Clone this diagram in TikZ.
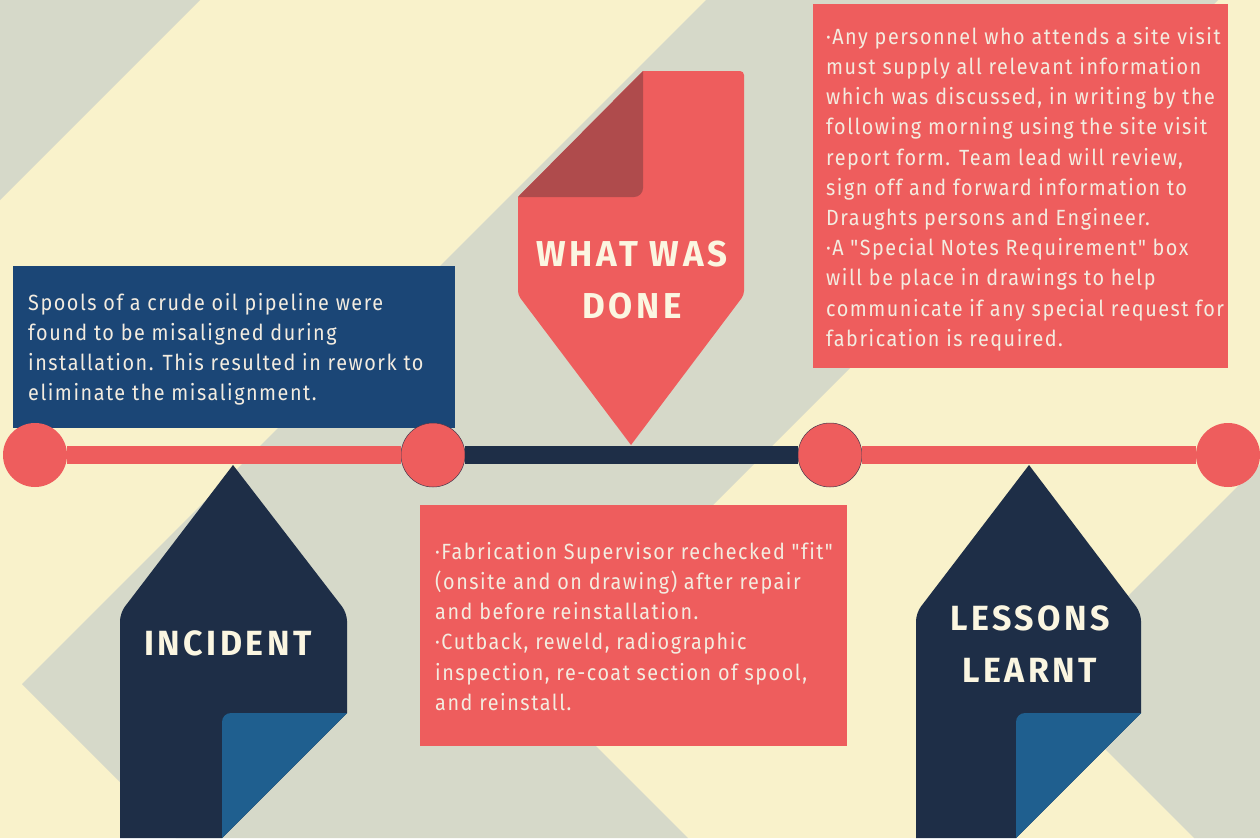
\documentclass[tikz,border=0pt]{standalone}
\usepackage{fontspec}
\setmainfont{Fira Sans}
\newfontfamily\bodyfont{Fira Sans}[FakeStretch=0.9, LetterSpace=7, Ligatures=NoCommon]
\newfontfamily\headfont{Fira Sans}[FakeStretch=0.97, LetterSpace=10]
\definecolor{bgbeige}{HTML}{F9F2CB}
\definecolor{bggrey}{HTML}{D6D9C9}
\definecolor{coral}{HTML}{EE5D5D}
\definecolor{coraldark}{HTML}{AF4B4C}
\definecolor{navy}{HTML}{1E2E47}
\definecolor{boxblue}{HTML}{1B4676}
\definecolor{foldblue}{HTML}{1F5F8F}
\definecolor{cream}{HTML}{FBF6E1}
\definecolor{bodytext}{HTML}{F3ECE0}
\tikzset{
  panel/.style={anchor=north west, inner sep=0pt, outer sep=0pt},
  bodytxt/.style={anchor=north west, inner sep=0pt, align=left, text=bodytext,
    font=\bodyfont\fontsize{22}{30.2}\selectfont},
  headtxt/.style={inner sep=0pt, align=center, text=cream,
    font=\headfont\bfseries\fontsize{35}{52}\selectfont},
  dot/.style={circle, fill=coral, minimum size=64pt, inner sep=0pt},
  ringdot/.style={dot, draw=navy!80!coral, line width=0.5pt},
  redline/.style={line width=18pt, coral},
  navyline/.style={line width=18pt, navy},
}
\begin{document}
\begin{tikzpicture}[x=1pt,y=-1pt]
\useasboundingbox (0,0) rectangle (1260,838);
% background chevron stripes
\begin{scope}
\clip (0,0) rectangle (1260,838);
\fill[bgbeige] (0,0) rectangle (1260,838);
\foreach \a in {-996,22,1040}{
  \pgfmathsetmacro\b{\a+512}
  \fill[bggrey] (\a+684,0) -- (\b+684,0) -- (\b,684) -- (\b+154,838) -- (\a+154,838) -- (\a,684) -- cycle;
}
\end{scope}
% text panels
\node[panel, fill=boxblue, minimum width=442pt, minimum height=162pt] (incbox) at (13,266) {};
\node[panel, fill=coral, minimum width=427pt, minimum height=241pt] (donebox) at (420,505) {};
\node[panel, fill=coral, minimum width=415pt, minimum height=364pt] (lessbox) at (813,4) {};
% WHAT WAS DONE tag
\fill[coral] (643,71) [rounded corners=4pt]-- (744,71) -- (744,295) [sharp corners]-- (631,445) [rounded corners=4pt]-- (518,295) [sharp corners]-- (518,197) -- cycle;
\fill[coraldark] (518,197) [rounded corners=9pt]-- (643,197) [sharp corners]-- (643,71) -- cycle;
\node[headtxt, font=\headfont\bfseries\fontsize{36}{52}\selectfont] (donelbl) at (632,280) {WHAT WAS\\DONE};
% timeline
\node[dot] (c1) at (35,455) {};
\node[ringdot] (c2) at (433,455) {};
\node[ringdot] (c3) at (830,455) {};
\node[dot] (c4) at (1228,455) {};
\draw[redline] (c1) -- (c2);
\draw[navyline] (c2) -- (c3);
\draw[redline] (c3) -- (c4);
% INCIDENT tag
\fill[navy] (233,465) [rounded corners=8pt]-- (347,613) [sharp corners]-- (347,713) -- (222,838) -- (120,838) [rounded corners=8pt]-- (120,613) [sharp corners]-- cycle;
\fill[foldblue] (222,838) [rounded corners=9pt]-- (222,713) [sharp corners]-- (347,713) -- cycle;
\node[headtxt] (inclbl) at (228,643) {INCIDENT};
% LESSONS LEARNT tag
\fill[navy] (1029,465) [rounded corners=8pt]-- (1141,613) [sharp corners]-- (1141,713) -- (1016,838) -- (916,838) [rounded corners=8pt]-- (916,613) [sharp corners]-- cycle;
\fill[foldblue] (1016,838) [rounded corners=9pt]-- (1016,713) [sharp corners]-- (1141,713) -- cycle;
\node[headtxt] (lesslbl) at (1030,644) {LESSONS\\LEARNT};
% texts
\node[bodytxt] (inctxt) at (28,293) {Spools of a crude oil pipeline were\\found to be misaligned during\\installation. This resulted in rework to\\eliminate the misalignment.};
\node[bodytxt] (donetxt) at (435,542) {·Fabrication Supervisor rechecked "fit"\\(onsite and on drawing) after repair\\and before reinstallation.\\·Cutback, reweld, radiographic\\inspection, re-coat section of spool,\\and reinstall.};
\node[bodytxt] (lesstxt) at (826,27) {·Any personnel who attends a site visit\\must supply all relevant information\\which was discussed, in writing by the\\following morning using the site visit\\report form. Team lead will review,\\sign off and forward information to\\Draughts persons and Engineer.\\·A "Special Notes Requirement" box\\will be place in drawings to help\\communicate if any special request for\\fabrication is required.};
\end{tikzpicture}
\end{document}
